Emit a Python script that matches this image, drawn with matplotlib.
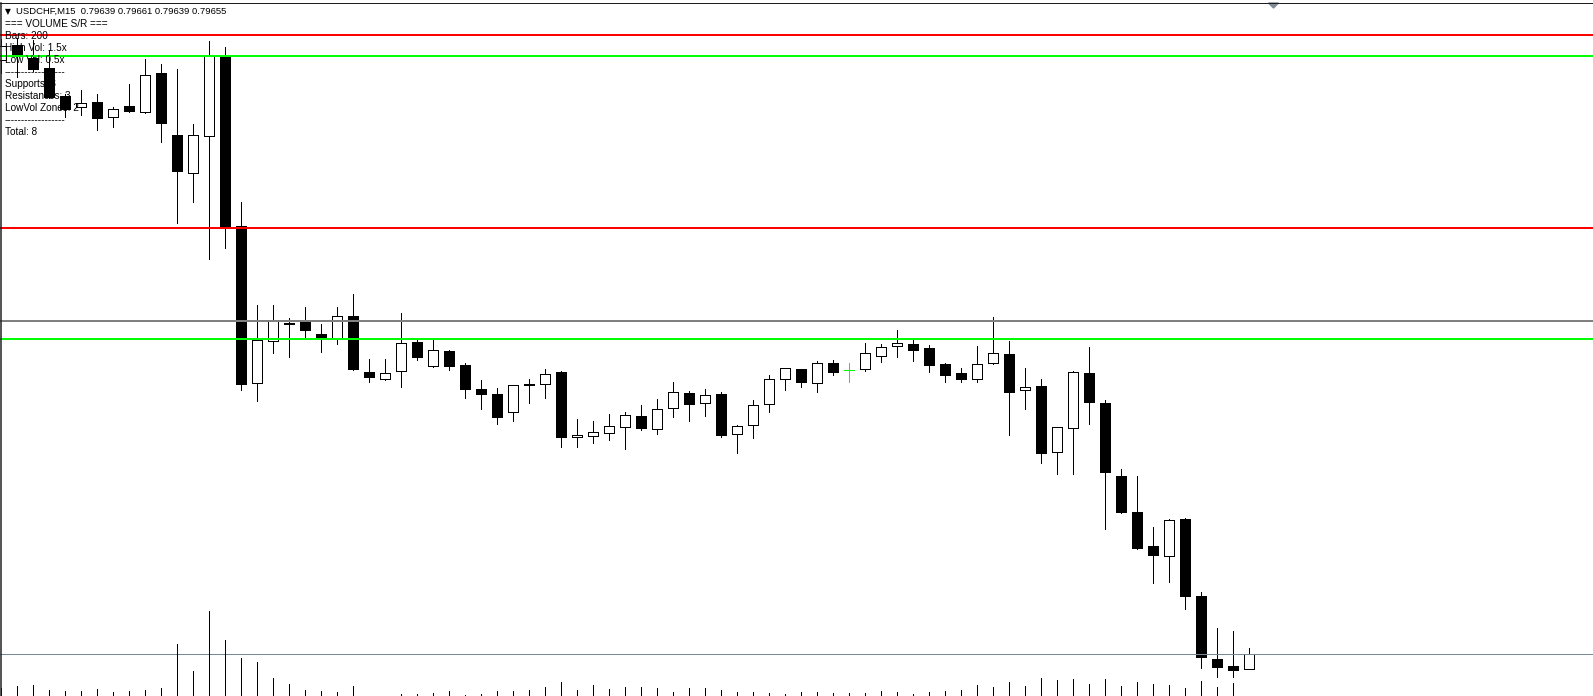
import matplotlib
matplotlib.use('Agg')
import matplotlib.pyplot as plt
from matplotlib.patches import Rectangle, Polygon
from matplotlib.lines import Line2D

# USDCHF M15 bars, oldest first
opens = [0.80276, 0.80292, 0.80278, 0.80268, 0.80239, 0.80227, 0.80232, 0.80217, 0.80228, 0.80222,
         0.80263, 0.80198, 0.80158, 0.80197, 0.80280, 0.80103, 0.79938, 0.79982, 0.80001, 0.80004,
         0.79990, 0.79985, 0.80009, 0.79950, 0.79943, 0.79951, 0.79981, 0.79956, 0.79972, 0.79957,
         0.79932, 0.79927, 0.79908, 0.79937, 0.79937, 0.79950, 0.79882, 0.79883, 0.79886, 0.79892,
         0.79904, 0.79890, 0.79912, 0.79928, 0.79918, 0.79927, 0.79885, 0.79895, 0.79917, 0.79943,
         0.79953, 0.79939, 0.79959, 0.79952, 0.79953, 0.79967, 0.79977, 0.79979, 0.79975, 0.79958,
         0.79949, 0.79943, 0.79959, 0.79969, 0.79931, 0.79935, 0.79866, 0.79891, 0.79949, 0.79918,
         0.79841, 0.79804, 0.79768, 0.79758, 0.79796, 0.79716, 0.79650, 0.79642, 0.79639]
highs = [0.80298, 0.80299, 0.80297, 0.80287, 0.80241, 0.80245, 0.80241, 0.80227, 0.80251, 0.80277,
         0.80272, 0.80267, 0.80209, 0.80296, 0.80290, 0.80128, 0.80020, 0.80020, 0.80007, 0.80018,
         0.80000, 0.80018, 0.80032, 0.79964, 0.79964, 0.80012, 0.79983, 0.79986, 0.79973, 0.79959,
         0.79942, 0.79933, 0.79936, 0.79943, 0.79953, 0.79951, 0.79901, 0.79899, 0.79906, 0.79908,
         0.79915, 0.79922, 0.79940, 0.79930, 0.79932, 0.79929, 0.79895, 0.79921, 0.79947, 0.79954,
         0.79953, 0.79962, 0.79963, 0.79959, 0.79980, 0.79979, 0.79994, 0.79986, 0.79978, 0.79959,
         0.79954, 0.79977, 0.80008, 0.79982, 0.79954, 0.79943, 0.79892, 0.79951, 0.79976, 0.79921,
         0.79849, 0.79841, 0.79788, 0.79796, 0.79797, 0.79720, 0.79682, 0.79679, 0.79661]
lows = [0.80263, 0.80259, 0.80265, 0.80237, 0.80217, 0.80219, 0.80203, 0.80206, 0.80222, 0.80221,
        0.80191, 0.80106, 0.80128, 0.80068, 0.80080, 0.79931, 0.79920, 0.79970, 0.79966, 0.79985,
        0.79971, 0.79979, 0.79952, 0.79940, 0.79942, 0.79934, 0.79963, 0.79955, 0.79952, 0.79923,
        0.79911, 0.79896, 0.79899, 0.79918, 0.79923, 0.79872, 0.79872, 0.79876, 0.79879, 0.79869,
        0.79889, 0.79885, 0.79903, 0.79899, 0.79904, 0.79882, 0.79865, 0.79881, 0.79908, 0.79931,
        0.79934, 0.79929, 0.79947, 0.79940, 0.79951, 0.79960, 0.79966, 0.79962, 0.79950, 0.79940,
        0.79940, 0.79940, 0.79958, 0.79884, 0.79911, 0.79855, 0.79843, 0.79843, 0.79896, 0.79786,
        0.79803, 0.79765, 0.79729, 0.79730, 0.79702, 0.79640, 0.79631, 0.79631, 0.79639]
closes = [0.80291, 0.80282, 0.80267, 0.80238, 0.80225, 0.80231, 0.80216, 0.80225, 0.80223, 0.80261,
          0.80210, 0.80160, 0.80198, 0.80281, 0.80102, 0.79937, 0.79983, 0.80004, 0.80000, 0.79994,
          0.79985, 0.80009, 0.79953, 0.79945, 0.79949, 0.79980, 0.79966, 0.79973, 0.79956, 0.79932,
          0.79927, 0.79903, 0.79936, 0.79936, 0.79948, 0.79882, 0.79884, 0.79887, 0.79893, 0.79905,
          0.79891, 0.79911, 0.79929, 0.79917, 0.79926, 0.79884, 0.79894, 0.79916, 0.79943, 0.79954,
          0.79940, 0.79959, 0.79950, 0.79952, 0.79970, 0.79976, 0.79980, 0.79973, 0.79957, 0.79947,
          0.79943, 0.79958, 0.79970, 0.79929, 0.79934, 0.79865, 0.79892, 0.79950, 0.79919, 0.79845,
          0.79804, 0.79766, 0.79759, 0.79795, 0.79716, 0.79652, 0.79641, 0.79638, 0.79655]
# tick volume
volumes = [120, 140, 150, 100, 90, 90, 110, 80, 90, 100,
           120, 560, 290, 890, 600, 420, 380, 220, 160, 100,
           90, 80, 140, 30, 30, 60, 60, 70, 90, 50,
           60, 90, 90, 100, 130, 180, 100, 150, 110, 130,
           130, 120, 80, 120, 120, 100, 80, 80, 70, 60,
           80, 80, 70, 70, 70, 90, 80, 60, 80, 90,
           100, 150, 130, 180, 140, 220, 200, 210, 160, 210,
           140, 180, 160, 150, 120, 190, 130, 170, 30]

resistances = [0.80302, 0.80101]
supports = [0.80281, 0.79984]
low_vol_zones = [0.80003]

header = 'USDCHF,M15  %.5f %.5f %.5f %.5f' % (opens[-1], highs[-1], lows[-1], closes[-1])
info = ['=== VOLUME S/R ===', 'Bars: 200', 'High Vol: 1.5x', 'Low Vol: 0.5x', '-' * 18,
        'Supports: 3', 'Resistances: 3', 'LowVol Zones: 2', '-' * 18, 'Total: 8']

W, H = 1593, 696
PX = 72 / 100.0  # one pixel in points

fig = plt.figure(figsize=(W / 100, H / 100), dpi=100)
fig.patch.set_facecolor('white')
ax = fig.add_axes([0, 0, 1, 1])
ax.set_xlim(-0.08, 99.48)
ax.set_ylim(0.796111, 0.803391)
ax.axis('off')

half = 0.31
for i in range(len(opens)):
    o, h, l, c = opens[i], highs[i], lows[i], closes[i]
    if o == c:
        # doji drawn in line colour
        ax.add_line(Line2D([i, i], [l, h], color='#00ff00', lw=PX, antialiased=False, zorder=3))
        ax.add_line(Line2D([i - half, i + half], [c, c], color='#00ff00', lw=PX, antialiased=False, zorder=3))
        continue
    ax.add_line(Line2D([i, i], [l, h], color='black', lw=PX, antialiased=False, zorder=2))
    fc = 'white' if c > o else 'black'
    ax.add_patch(Rectangle((i - half, min(o, c)), 2 * half, abs(c - o), facecolor=fc,
                           edgecolor='black', lw=PX, antialiased=False, zorder=3))

for lv in resistances:
    ax.axhline(lv, color='#ff0000', lw=2 * PX, antialiased=False, zorder=5)
for lv in supports:
    ax.axhline(lv, color='#00ff00', lw=2 * PX, antialiased=False, zorder=5)
for lv in low_vol_zones:
    ax.axhline(lv, color='#808080', lw=2 * PX, antialiased=False, zorder=5)
# bid line
ax.axhline(closes[-1], color='#778899', lw=PX, antialiased=False, zorder=5)

# volumes at the bottom of the main window, base a few pixels below the edge
vax = ax.twinx()
vax.set_ylim(40, 7000)
vax.axis('off')
vax.vlines(range(len(volumes)), 0, volumes, color='black', lw=PX, antialiased=False)

# frame
fig.add_artist(Line2D([0, 1], [1 - 2.5 / H] * 2, color='#1e1e1e', lw=PX, transform=fig.transFigure))
fig.add_artist(Line2D([0.6 / W] * 2, [0, 1 - 2.5 / H], color='#1e1e1e', lw=1.5 * PX, transform=fig.transFigure))
# chart shift marker
tri = [(1268.5, 3), (1278.5, 3), (1273.5, 8)]
fig.add_artist(Polygon([(x / W, 1 - y / H) for x, y in tri], closed=True, color='#7f8a96',
                       transform=fig.transFigure))

fam = ['Liberation Sans', 'DejaVu Sans']
fig.text(5 / W, 1 - 11.5 / H, '\u25bc', fontsize=5.5, family=['DejaVu Sans'], va='center', color='black')
fig.text(16 / W, 1 - 11.5 / H, header, fontsize=6.8, family=fam, va='center', color='black')
for k, line in enumerate(info):
    fig.text(5 / W, 1 - (24 + 12 * k) / H, line, fontsize=7.2, family=fam, va='center', color='black')

fig.savefig('out.png', dpi=100, facecolor='white')
